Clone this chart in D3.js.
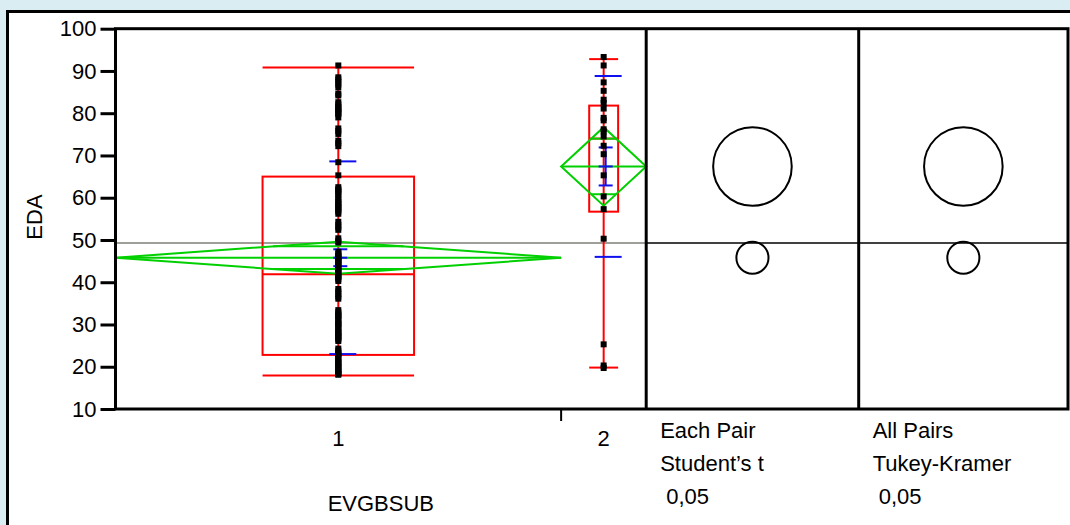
<!DOCTYPE html>
<html>
<head>
<meta charset="utf-8">
<script src="https://cdn.jsdelivr.net/npm/d3@7"></script>
<style>
  html, body { margin: 0; padding: 0; background: #d9edf2; }
  svg { display: block; }
  text { font-family: "Liberation Sans", Arial, sans-serif; fill: #000; }
</style>
</head>
<body>
<svg id="chart" width="1070" height="525"></svg>
<script>
// ---- data -------------------------------------------------------------
const groups = ["1", "2"];

const edaGroup1 = [
  91.3,
  88.5, 88.0, 87.4, 86.8, 86.1,
  84.6, 84.2,
  82.6, 82.1, 81.5, 81.2, 80.9, 80.4, 80.1, 79.8, 79.0,
  76.4, 75.8, 75.1,
  73.5, 72.9, 72.2,
  68.4,
  65.3,
  62.5, 62.0, 61.7, 61.4, 60.8, 60.2, 59.6, 59.0, 58.7, 58.4, 57.8, 57.5, 57.2, 56.7, 56.2,
  54.3, 53.6, 53.0, 52.4,
  50.4, 49.8, 49.4,
  47.2, 46.7, 46.2, 46.0, 45.7, 45.2, 44.9, 44.7, 44.2, 43.7, 43.2, 43.0, 42.7, 42.2,
  41.7, 41.5, 41.2, 40.8, 40.3,
  38.4, 37.8, 37.2, 36.6, 36.1,
  33.4, 32.9, 32.4, 32.1, 31.9, 31.4, 30.9, 30.4, 30.1, 29.9, 29.4, 28.9, 28.4, 28.1,
  27.9, 27.4, 27.1, 26.9, 26.5, 26.1,
  24.3, 23.8, 23.3, 23.0, 22.8, 22.3, 21.8, 21.3, 21.0, 20.8, 20.3, 19.9, 19.8, 19.4,
  19.0, 18.6, 18.5, 18.3, 18.1
];

const edaGroup2 = [
  93.3, 91.3, 87.3, 85.3, 83.2, 82.4, 81.1, 78.9, 78.3, 76.2, 75.7,
  74.5, 72.3, 70.3, 65.3, 60.3, 57.3, 50.3, 25.3, 20.3, 19.7
];

// summary statistics per group (quantile box, means diamond, error bars)
const quartile1   = [22.8, 56.7];
const medians     = [41.9, 74.0];
const quartile3   = [65.0, 81.8];
const whiskerLow  = [17.9, 19.8];
const whiskerHigh = [90.8, 92.8];
const groupMeans  = [45.8, 67.4];
const ciHalfWidth = [3.8, 9.3];   // 95% CI of the mean (diamonds and comparison circles)
const stdErr      = [2.0, 4.5];   // mean error bars
const stdDev      = [22.8, 21.4]; // std dev lines

const yTicks = [10, 20, 30, 40, 50, 60, 70, 80, 90, 100];
const compareTitles = [["Each Pair", "Student\u2019s t", "0,05"], ["All Pairs", "Tukey-Kramer", "0,05"]];

// ---- layout -----------------------------------------------------------
const FONT = 22;
const svg = d3.select("#chart");
const frame = { left: 115.5, top: 28.7, bottom: 409, right: 1068 };
const mainRight = 646.2;
const panelBreaks = [mainRight, 858.7, frame.right];

const y = d3.scaleLinear().domain([10, 100]).range([frame.bottom, frame.top]);

const allGroups = [edaGroup1, edaGroup2];
const counts = allGroups.map(g => g.length);
const total = d3.sum(counts);
const xCount = d3.scaleLinear().domain([0, total]).range([frame.left, mainRight]);
const cum = d3.cumsum([0, ...counts]);
const bands = groups.map((g, i) => ({ x0: xCount(cum[i]), x1: xCount(cum[i + 1]) }));
bands.forEach(b => { b.c = (b.x0 + b.x1) / 2; b.w = b.x1 - b.x0; });

const grandMean = d3.sum(groupMeans.map((m, i) => m * counts[i])) / total;

const GREEN = "#00d000", RED = "#ff0000", BLUE = "#1010ee";

// white report panel
svg.append("rect").attr("x", 7.5).attr("y", 11.5).attr("width", 1100).attr("height", 600)
  .attr("fill", "#fff").attr("stroke", "#000").attr("stroke-width", 3);

// plot frame
svg.append("rect").attr("x", frame.left).attr("y", frame.top)
  .attr("width", frame.right - frame.left).attr("height", frame.bottom - frame.top)
  .attr("fill", "#fff");

// grand mean line
svg.append("line").attr("x1", frame.left).attr("x2", mainRight)
  .attr("y1", y(grandMean)).attr("y2", y(grandMean))
  .attr("stroke", "#a09e98").attr("stroke-width", 2);
svg.append("line").attr("x1", mainRight).attr("x2", frame.right)
  .attr("y1", y(grandMean)).attr("y2", y(grandMean))
  .attr("stroke", "#000").attr("stroke-width", 1.5);

const plot = svg.append("g");

groups.forEach((g, i) => {
  const b = bands[i];
  const bw = b.w * 0.34;
  const gg = plot.append("g");

  // quantile box and whiskers
  gg.append("line").attr("x1", b.c).attr("x2", b.c)
    .attr("y1", y(whiskerLow[i])).attr("y2", y(whiskerHigh[i]))
    .attr("stroke", RED).attr("stroke-width", 2);
  [whiskerLow[i], whiskerHigh[i], medians[i]].forEach(v => {
    gg.append("line").attr("x1", b.c - bw / 2).attr("x2", b.c + bw / 2)
      .attr("y1", y(v)).attr("y2", y(v)).attr("stroke", RED).attr("stroke-width", 2);
  });
  gg.append("rect").attr("x", b.c - bw / 2).attr("y", y(quartile3[i]))
    .attr("width", bw).attr("height", y(quartile1[i]) - y(quartile3[i]))
    .attr("fill", "none").attr("stroke", RED).attr("stroke-width", 2);

  // means diamond with overlap marks
  const m = groupMeans[i], h = ciHalfWidth[i];
  const diamond = [[b.x0, y(m)], [b.c, y(m + h)], [b.x1, y(m)], [b.c, y(m - h)]];
  gg.append("path").attr("d", d3.line()(diamond) + "Z")
    .attr("fill", "none").attr("stroke", GREEN).attr("stroke-width", 2);
  gg.append("line").attr("x1", b.x0).attr("x2", b.x1).attr("y1", y(m)).attr("y2", y(m))
    .attr("stroke", GREEN).attr("stroke-width", 2);
  const ov = h / Math.SQRT2;
  const ovHalf = (b.w / 2) * (1 - 1 / Math.SQRT2);
  [m + ov, m - ov].forEach(v => {
    gg.append("line").attr("x1", b.c - ovHalf).attr("x2", b.c + ovHalf)
      .attr("y1", y(v)).attr("y2", y(v)).attr("stroke", GREEN).attr("stroke-width", 2);
  });

  // std dev lines and mean error bars
  [m + stdDev[i], m - stdDev[i]].forEach(v => {
    gg.append("line").attr("x1", b.c - 9).attr("x2", b.c + 18)
      .attr("y1", y(v)).attr("y2", y(v)).attr("stroke", BLUE).attr("stroke-width", 2);
  });
  gg.append("line").attr("x1", b.c + 2).attr("x2", b.c + 2)
    .attr("y1", y(m - stdErr[i])).attr("y2", y(m + stdErr[i]))
    .attr("stroke", BLUE).attr("stroke-width", 2);
  [m + stdErr[i], m, m - stdErr[i]].forEach(v => {
    gg.append("line").attr("x1", b.c - 5).attr("x2", b.c + 9)
      .attr("y1", y(v)).attr("y2", y(v)).attr("stroke", BLUE).attr("stroke-width", 2);
  });
});

// observations
groups.forEach((g, i) => {
  const b = bands[i];
  plot.append("g").selectAll("rect").data(allGroups[i]).join("rect")
    .attr("x", b.c - 3).attr("y", d => y(d) - 3)
    .attr("width", 6).attr("height", 6).attr("fill", "#000");
});

// comparison circles
[0, 1].forEach(p => {
  const cx = (panelBreaks[p] + panelBreaks[p + 1]) / 2;
  svg.append("g").selectAll("circle").data(groupMeans).join("circle")
    .attr("cx", cx).attr("cy", d => y(d))
    .attr("r", (d, i) => y(0) - y(ciHalfWidth[i]))
    .attr("fill", "none").attr("stroke", "#000").attr("stroke-width", 2);
});

// frame border and panel dividers
svg.append("rect").attr("x", frame.left).attr("y", frame.top)
  .attr("width", frame.right - frame.left).attr("height", frame.bottom - frame.top)
  .attr("fill", "none").attr("stroke", "#000").attr("stroke-width", 3);
panelBreaks.slice(0, 2).forEach(px => {
  svg.append("line").attr("x1", px).attr("x2", px).attr("y1", frame.top).attr("y2", frame.bottom)
    .attr("stroke", "#000").attr("stroke-width", 3);
});

// y axis
const yAxis = d3.axisLeft(y).tickValues(yTicks).tickSize(15).tickPadding(4);
const ya = svg.append("g").attr("transform", `translate(${frame.left},0)`).call(yAxis);
ya.select(".domain").remove();
ya.selectAll(".tick line").attr("stroke", "#000").attr("stroke-width", 3);
ya.selectAll(".tick text").attr("font-size", FONT).attr("font-family", "Liberation Sans, Arial, sans-serif");

svg.append("text").attr("transform", "translate(42,217) rotate(-90)")
  .attr("text-anchor", "middle").attr("font-size", FONT).text("EDA");

// x axis: group labels and divider ticks
groups.forEach((g, i) => {
  svg.append("text").attr("x", bands[i].c).attr("y", 446)
    .attr("text-anchor", "middle").attr("font-size", FONT).text(g);
});
bands.slice(0, -1).forEach(b => {
  svg.append("line").attr("x1", b.x1).attr("x2", b.x1).attr("y1", frame.bottom).attr("y2", frame.bottom + 12)
    .attr("stroke", "#000").attr("stroke-width", 2);
});
svg.append("text").attr("x", (frame.left + mainRight) / 2).attr("y", 511)
  .attr("text-anchor", "middle").attr("font-size", FONT).text("EVGBSUB");

// comparison panel captions
compareTitles.forEach((lines, p) => {
  const x0 = panelBreaks[p] + 14;
  lines.forEach((t, k) => {
    svg.append("text").attr("x", x0 + (k === 2 ? 6 : 0)).attr("y", 438 + k * 33)
      .attr("font-size", FONT).text(t);
  });
});
</script>
</body>
</html>
